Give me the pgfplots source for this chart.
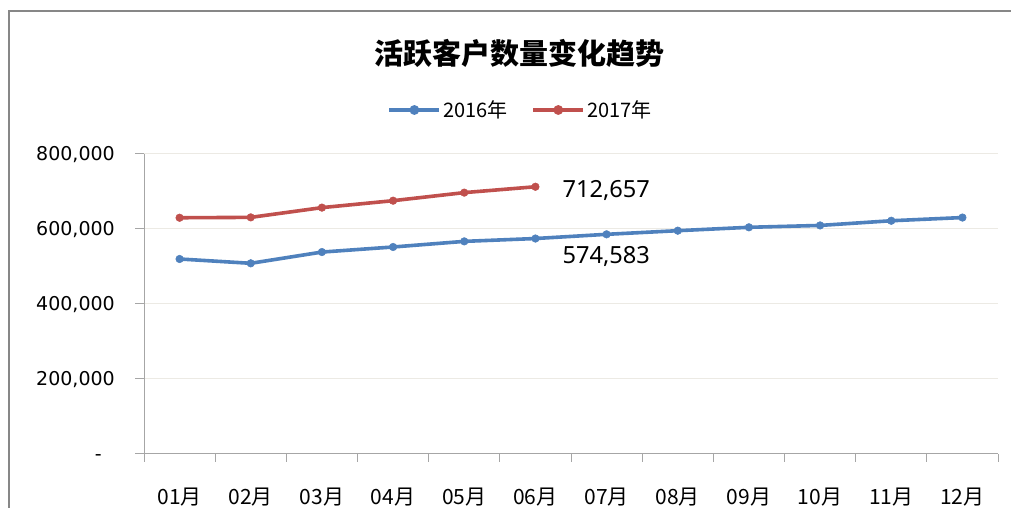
\documentclass[border=0pt]{standalone}
\usepackage{fontspec}
\usepackage{pgfplots}
\pgfplotsset{compat=1.18}
\setmainfont{DejaVu Sans}
\newfontfamily\cjk{Noto Sans CJK SC}
\newfontfamily\num{Noto Sans}
\definecolor{s1}{HTML}{4F81BD}
\definecolor{s2}{HTML}{C0504D}
\definecolor{axgray}{HTML}{A6A6A6}
\definecolor{gridc}{HTML}{ECEAE4}
\definecolor{framec}{HTML}{878787}
\begin{document}
\begin{tikzpicture}[x=1pt,y=1pt]
\useasboundingbox (0,0) rectangle (1011,508);
\fill[white] (0,0) rectangle (1011,508);
\draw[framec, line width=2pt] (8.5,-2) -- (8.5,497) -- (1015,497);
\node[font=\cjk\bfseries\fontsize{29}{34}\selectfont, inner sep=0pt] at (519,455) {活跃客户数量变化趋势};
\begin{axis}[
  at={(144pt,54pt)}, anchor=south west, scale only axis,
  width=854pt, height=300pt,
  xmin=0.5, xmax=12.5, ymin=0, ymax=800000,
  axis x line*=bottom, axis y line*=left,
  axis line style={axgray, line width=1pt, -},
  xtick={1,...,12},
  xticklabels={01月,02月,03月,04月,05月,06月,07月,08月,09月,10月,11月,12月},
  minor xtick={0.5,1.5,...,12.5},
  major x tick style={draw=none},
  tick align=outside,
  major tick length=9pt, minor tick length=8pt,
  tick style={axgray, line width=1pt},
  ytick={0,200000,400000,600000,800000},
  yticklabels={{-\hspace*{13pt}},{200,000},{400,000},{600,000},{800,000}},
  scaled y ticks=false,
  ymajorgrids, major grid style={gridc, line width=1pt},
  yticklabel style={font=\fontsize{19}{22}\selectfont, inner sep=0pt, anchor=base east, xshift=-20pt, yshift=-6.7pt},
  xticklabel style={font=\cjk\fontsize{21}{24}\selectfont, inner sep=0pt, anchor=base, yshift=-41.7pt},
  clip=false,
  legend columns=2,
  legend style={draw=none, fill=none, at={(0.4409,1.1467)}, anchor=center,
    font=\cjk\fontsize{20}{24}\selectfont, inner sep=0pt,
    /tikz/every even column/.append style={column sep=22pt}},
  legend image code/.code={\draw[line width=3.5pt] (0pt,0pt) -- (50pt,0pt); \fill (25pt,0pt) circle (3pt);},
]
\addplot[s1, line width=3.6pt, mark=*, mark size=3.8pt, mark options={line width=0.5pt}]
 coordinates {(1,520000) (2,508500) (3,538500) (4,552000) (5,567000) (6,574583) (7,585800) (8,595500) (9,604500) (10,609500) (11,622000) (12,630500)};
\addlegendentry{2016年}
\addplot[s2, line width=3.6pt, mark=*, mark size=3.8pt, mark options={line width=0.5pt}]
 coordinates {(1,630000) (2,631000) (3,657000) (4,675500) (5,697000) (6,712657)};
\addlegendentry{2017年}
\node[anchor=base west, inner sep=0pt, font=\num\fontsize{23.6}{28}\selectfont, xshift=27pt, yshift=-10.7pt] at (axis cs:6,712657) {712,657};
\node[anchor=base west, inner sep=0pt, font=\num\fontsize{23.6}{28}\selectfont, xshift=27pt, yshift=-25pt] at (axis cs:6,574583) {574,583};
\end{axis}
\end{tikzpicture}
\end{document}
